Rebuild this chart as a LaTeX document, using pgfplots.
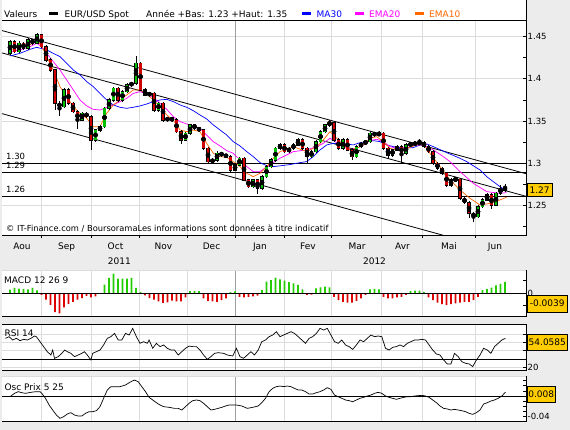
\documentclass[border=0pt]{standalone}
\usepackage{fontspec}
\setmainfont{DejaVu Sans}
\usepackage{pgfplots}
\usepackage{pgfplotstable}
\pgfplotsset{compat=1.18}
\definecolor{bg}{HTML}{ECECEC}
\definecolor{gridc}{HTML}{DCDCDC}
\definecolor{jangrid}{HTML}{A0A0A0}
\definecolor{candleup}{HTML}{00C000}
\definecolor{candledn}{HTML}{D00000}
\definecolor{macdup}{HTML}{22CC00}
\definecolor{macddn}{HTML}{DD0000}
\definecolor{ma30}{HTML}{0000FF}
\definecolor{ema20}{HTML}{FF00FF}
\definecolor{ema10}{HTML}{FF6600}
\definecolor{boxy}{HTML}{FFCC00}
\newcommand{\fs}[1]{\fontsize{#1}{#1}\selectfont}

\pgfplotstableread{
x o h l c
10 1.4300 1.4460 1.4280 1.4438
14.5 1.4438 1.4460 1.4300 1.4320
19 1.4320 1.4440 1.4305 1.4418
23.5 1.4418 1.4435 1.4340 1.4359
28 1.4359 1.4478 1.4345 1.4458
32.5 1.4458 1.4475 1.4400 1.4418
37 1.4418 1.4545 1.4405 1.4517
41.5 1.4517 1.4530 1.4360 1.4379
46 1.4379 1.4395 1.4200 1.4221
50.5 1.4221 1.4240 1.4080 1.4103
55 1.4103 1.4120 1.3630 1.3709
59.5 1.3709 1.3740 1.3560 1.3670
64 1.3670 1.3890 1.3650 1.3867
68.5 1.3867 1.3885 1.3690 1.3709
73 1.3709 1.3725 1.3590 1.3611
77.5 1.3611 1.3630 1.3400 1.3512
82 1.3512 1.3610 1.3495 1.3591
86.5 1.3591 1.3610 1.3530 1.3552
91 1.3552 1.3570 1.3158 1.3276
95.5 1.3276 1.3410 1.3255 1.3394
100 1.3394 1.3450 1.3375 1.3433
104.5 1.3433 1.3670 1.3415 1.3650
109 1.3650 1.3770 1.3630 1.3749
113.5 1.3749 1.3905 1.3730 1.3887
118 1.3887 1.3905 1.3730 1.3749
122.5 1.3749 1.3865 1.3730 1.3847
127 1.3847 1.3945 1.3830 1.3926
131.5 1.3926 1.3965 1.3905 1.3946
136 1.3946 1.4269 1.3930 1.4182
140.5 1.4182 1.4200 1.3850 1.3867
145 1.3867 1.3885 1.3790 1.3808
149.5 1.3808 1.3845 1.3790 1.3827
154 1.3827 1.3845 1.3610 1.3630
158.5 1.3630 1.3730 1.3610 1.3709
163 1.3709 1.3725 1.3490 1.3512
167.5 1.3512 1.3550 1.3495 1.3532
172 1.3532 1.3550 1.3490 1.3512
176.5 1.3512 1.3530 1.3355 1.3374
181 1.3374 1.3390 1.3229 1.3276
185.5 1.3276 1.3375 1.3260 1.3355
190 1.3355 1.3470 1.3340 1.3453
194.5 1.3453 1.3470 1.3395 1.3414
199 1.3414 1.3430 1.3375 1.3394
203.5 1.3394 1.3410 1.3160 1.3177
208 1.3177 1.3195 1.2990 1.3020
212.5 1.3020 1.3060 1.3000 1.3039
217 1.3039 1.3140 1.3020 1.3118
221.5 1.3118 1.3135 1.3080 1.3099
226 1.3099 1.3115 1.3060 1.3079
230.5 1.3079 1.3095 1.2900 1.2921
235 1.2921 1.3000 1.2905 1.2980
239.5 1.2980 1.3080 1.2965 1.3059
244 1.3059 1.3075 1.2785 1.2803
248.5 1.2803 1.2820 1.2705 1.2724
253 1.2724 1.2820 1.2710 1.2803
257.5 1.2803 1.2820 1.2637 1.2704
262 1.2704 1.2860 1.2690 1.2842
266.5 1.2842 1.2980 1.2825 1.2961
271 1.2961 1.3060 1.2945 1.3039
275.5 1.3039 1.3195 1.3020 1.3177
280 1.3177 1.3240 1.3160 1.3217
284.5 1.3217 1.3235 1.3120 1.3138
289 1.3138 1.3195 1.3120 1.3177
293.5 1.3177 1.3235 1.3160 1.3217
298 1.3217 1.3295 1.3200 1.3276
302.5 1.3276 1.3295 1.3160 1.3177
307 1.3177 1.3195 1.3000 1.3079
311.5 1.3079 1.3155 1.3060 1.3138
316 1.3138 1.3275 1.3120 1.3256
320.5 1.3256 1.3395 1.3240 1.3374
325 1.3374 1.3470 1.3355 1.3453
329.5 1.3453 1.3512 1.3435 1.3481
334 1.3481 1.3500 1.3255 1.3276
338.5 1.3276 1.3295 1.3160 1.3177
343 1.3177 1.3295 1.3160 1.3276
347.5 1.3276 1.3295 1.3140 1.3158
352 1.3158 1.3175 1.3040 1.3079
356.5 1.3079 1.3215 1.3060 1.3197
361 1.3197 1.3255 1.3180 1.3236
365.5 1.3236 1.3275 1.3220 1.3256
370 1.3256 1.3385 1.3240 1.3355
374.5 1.3355 1.3375 1.3315 1.3335
379 1.3335 1.3380 1.3320 1.3355
383.5 1.3355 1.3370 1.3160 1.3177
388 1.3177 1.3195 1.3050 1.3099
392.5 1.3099 1.3175 1.3080 1.3158
397 1.3158 1.3215 1.3140 1.3197
401.5 1.3197 1.3215 1.3000 1.3118
406 1.3118 1.3235 1.3100 1.3217
410.5 1.3217 1.3245 1.3200 1.3229
415 1.3229 1.3255 1.3210 1.3236
419.5 1.3236 1.3290 1.3220 1.3244
424 1.3244 1.3260 1.3180 1.3197
428.5 1.3197 1.3215 1.3120 1.3138
433 1.3138 1.3155 1.2980 1.3000
437.5 1.3000 1.3020 1.2920 1.2941
442 1.2941 1.2960 1.2860 1.2882
446.5 1.2882 1.2900 1.2720 1.2744
451 1.2744 1.2825 1.2725 1.2803
455.5 1.2803 1.2840 1.2790 1.2811
460 1.2811 1.2830 1.2565 1.2586
464.5 1.2586 1.2605 1.2515 1.2535
469 1.2535 1.2550 1.2350 1.2409
473.5 1.2409 1.2430 1.2310 1.2370
478 1.2370 1.2505 1.2350 1.2488
482.5 1.2488 1.2590 1.2470 1.2567
487 1.2567 1.2650 1.2550 1.2626
491.5 1.2626 1.2645 1.2460 1.2507
496 1.2507 1.2665 1.2490 1.2645
500.5 1.2645 1.2745 1.2625 1.2704
505 1.2704 1.2760 1.2660 1.2690
}\candles

\pgfplotstableread{
x y
10 1.4269
20 1.4300
30 1.4347
36.7 1.4371
46.7 1.4340
53.3 1.4300
60 1.4261
66.7 1.4182
73.3 1.4103
80 1.4044
86.7 1.3965
93.3 1.3906
100 1.3827
106.7 1.3749
113.3 1.3690
120 1.3662
126.7 1.3650
133.3 1.3662
140 1.3678
146.7 1.3701
153.3 1.3729
160 1.3749
166.7 1.3756
173.3 1.3729
180 1.3690
186.7 1.3662
193.3 1.3622
200 1.3571
206.7 1.3524
213.3 1.3453
220 1.3394
226.7 1.3335
233.3 1.3256
240 1.3205
246.7 1.3138
253.3 1.3079
260 1.3008
266.7 1.2972
273.3 1.2961
280 1.2970
290 1.2985
300 1.3008
306.7 1.3020
313.3 1.3079
320 1.3158
326.7 1.3217
333.3 1.3236
340 1.3232
346.7 1.3229
353.3 1.3217
360 1.3244
366.7 1.3256
373.3 1.3268
380 1.3256
386.7 1.3217
393.3 1.3197
400 1.3185
406.7 1.3181
413.3 1.3185
420 1.3217
426.7 1.3229
433.3 1.3197
446.7 1.3126
460 1.3059
466.7 1.3020
480 1.2921
486.7 1.2842
500 1.2724
505 1.2685
}\maA

\pgfplotstableread{
x y
10 1.4320
20 1.4340
30 1.4379
36.7 1.4418
41.7 1.4379
46.7 1.4300
53.3 1.4202
60 1.4103
66.7 1.3985
73.3 1.3867
80 1.3749
86.7 1.3678
93.3 1.3638
100 1.3630
106.7 1.3662
113.3 1.3690
120 1.3729
126.7 1.3768
133.3 1.3827
140 1.3847
146.7 1.3820
153.3 1.3780
160 1.3709
166.7 1.3638
173.3 1.3552
180 1.3493
186.7 1.3465
193.3 1.3441
200 1.3414
206.7 1.3335
213.3 1.3256
220 1.3205
226.7 1.3150
233.3 1.3118
240 1.3039
246.7 1.2961
253.3 1.2901
260 1.2901
266.7 1.2961
273.3 1.3008
280 1.3060
293.3 1.3138
306.7 1.3158
316.7 1.3197
323.3 1.3236
330 1.3296
336.7 1.3244
343.3 1.3205
350 1.3165
356.7 1.3177
363.3 1.3217
370 1.3268
376.7 1.3284
383.3 1.3256
390 1.3197
396.7 1.3177
406.7 1.3185
416.7 1.3217
423.3 1.3217
433.3 1.3158
443.3 1.3079
450 1.3020
460 1.2901
473.3 1.2764
486.7 1.2665
500 1.2645
506.7 1.2653
}\emaB

\pgfplotstableread{
x y
10 1.4340
20 1.4379
30 1.4399
36.7 1.4458
41.7 1.4387
46.7 1.4261
53.3 1.4103
60 1.3906
66.7 1.3788
73.3 1.3670
80 1.3591
86.7 1.3532
93.3 1.3433
100 1.3433
103.3 1.3512
106.7 1.3591
113.3 1.3690
120 1.3749
126.7 1.3808
133.3 1.3867
140 1.3867
146.7 1.3820
153.3 1.3749
160 1.3670
166.7 1.3571
173.3 1.3512
180 1.3394
186.7 1.3374
193.3 1.3394
200 1.3374
206.7 1.3236
213.3 1.3118
220 1.3079
226.7 1.3071
233.3 1.3020
240 1.2961
246.7 1.2882
253.3 1.2842
260 1.2882
266.7 1.2961
273.3 1.3059
280 1.3138
293.3 1.3197
306.7 1.3138
316.7 1.3197
323.3 1.3276
330 1.3374
336.7 1.3296
343.3 1.3217
350 1.3158
356.7 1.3177
363.3 1.3217
370 1.3296
376.7 1.3315
383.3 1.3256
390 1.3177
396.7 1.3158
406.7 1.3177
416.7 1.3217
423.3 1.3229
430 1.3118
440 1.2961
450 1.2803
460 1.2685
470 1.2586
480 1.2507
490 1.2527
500 1.2567
506.7 1.2600
}\emaC

\pgfplotstableread{
x v
10 0.0016
14.5 0.0023
19 0.0020
23.5 0.0019
28 0.0017
32.5 0.0023
37 0.0013
41.5 -0.0006
46 -0.0027
50.5 -0.0049
55 -0.0080
59.5 -0.0086
64 -0.0060
68.5 -0.0045
73 -0.0036
77.5 -0.0027
82 -0.0020
86.5 -0.0011
91 -0.0017
95.5 -0.0013
100 -0.0002
104.5 0.0037
109 0.0066
113.5 0.0084
118 0.0063
122.5 0.0063
127 0.0063
131.5 0.0066
136 0.0023
140.5 0.0006
145 -0.0009
149.5 -0.0020
154 -0.0027
158.5 -0.0034
163 -0.0041
167.5 -0.0039
172 -0.0031
176.5 -0.0034
181 -0.0034
185.5 -0.0017
190 0.0009
194.5 0.0011
199 0.0009
203.5 -0.0021
208 -0.0032
212.5 -0.0034
217 -0.0036
221.5 -0.0029
226 -0.0021
230.5 0.0005
235 0.0008
239.5 -0.0015
244 -0.0017
248.5 -0.0015
253 -0.0013
257.5 -0.0010
262 0.0014
266.5 0.0050
271 0.0057
275.5 0.0067
280 0.0060
284.5 0.0054
289 0.0048
293.5 0.0043
298 0.0036
302.5 0.0017
307 -0.0007
311.5 -0.0005
316 0.0021
320.5 0.0026
325 0.0029
329.5 0.0026
334 -0.0015
338.5 -0.0029
343 -0.0036
347.5 -0.0040
352 -0.0040
356.5 -0.0032
361 -0.0021
365.5 -0.0007
370 0.0017
374.5 0.0019
379 0.0017
383.5 -0.0015
388 -0.0021
392.5 -0.0021
397 -0.0017
401.5 -0.0015
406 -0.0007
410.5 0.0009
415 0.0012
419.5 0.0012
424 0.0005
428.5 -0.0017
433 -0.0029
437.5 -0.0040
442 -0.0046
446.5 -0.0050
451 -0.0046
455.5 -0.0043
460 -0.0040
464.5 -0.0037
469 -0.0036
473.5 -0.0029
478 -0.0015
482.5 0.0014
487 0.0019
491.5 0.0024
496 0.0034
500.5 0.0041
505 0.0049
}\macd

\pgfplotstableread{
x y
5.5 54.9
9.1 56.9
12.7 52.9
16.4 54.9
20 52.1
23.6 53.7
27.3 52.9
30.9 54.9
34.5 57.7
36.4 56.9
40 50.9
43.6 44.9
47.3 38.8
50.9 34.8
52.7 40.8
54.5 30.8
58.2 32.8
61.8 36.8
64.7 40.8
67.3 38.8
70.9 36.8
74.5 32.8
78.2 34.8
81.8 36.8
84.4 38.8
87.3 34.8
90.9 28.8
92.7 36.8
96.4 38.8
100 40.8
103.6 46.9
107.3 54.9
110.9 56.9
114.5 60.9
118.2 52.9
121.8 52.9
125.5 60.9
129.1 58.9
132.7 66.9
136.4 56.9
140 48.9
143.6 50.9
147.3 48.9
149.1 52.9
152.7 42.9
156.4 48.9
160 44.9
163.6 46.9
167.3 42.9
170.9 40.8
174.5 40.8
178.2 34.8
181.8 38.8
185.5 42.9
189.1 45.6
192.7 44.9
196.4 44.9
200 40.8
203.6 34.8
207.3 29.6
210.9 32.8
214.5 36.8
218.2 37.6
223.6 36.8
227.3 34.8
232.7 33.6
236.4 42.9
240 32.8
243.6 30.8
247.3 34.8
250.9 38.8
254.5 34.8
258.2 40.8
261.8 50.9
265.5 52.9
269.1 56.9
272.7 58.9
276.4 62.9
280 56.9
283.6 58.9
287.3 60.9
290.9 62.9
294.5 60.9
298.2 56.9
301.8 52.9
305.5 48.9
309.1 54.9
312.7 56.9
316.4 60.9
320 66.9
323.6 64.9
327.3 66.9
330.9 58.9
334.5 50.9
338.2 48.9
341.8 52.9
345.5 46.9
349.1 44.9
352.7 41.6
356.4 46.9
360 52.9
363.6 50.9
367.3 54.9
370.9 58.9
374.5 56.9
378.2 57.7
381.8 56.9
385.5 42.9
389.1 40.8
392.7 44.1
396.4 44.9
400 46.9
403.6 44.9
407.3 48.9
410.9 50.9
414.5 52.9
418.2 52.9
421.8 53.7
425.5 52.9
429.1 46.9
432.7 40.8
436.4 36.0
440 34.8
443.6 28.8
447.3 24.0
450.9 24.0
454.5 36.8
458.2 32.8
461.8 26.8
465.5 24.8
469.1 24.0
472.7 20.8
476.4 28.8
480 34.8
483.6 42.9
487.3 40.8
490.9 36.8
494.5 44.9
498.2 48.9
501.8 52.9
505.5 54.9
}\rsi

\pgfplotstableread{
x y
10.9 0
14.5 0.0052
18.2 0.0084
21.8 0.0064
25.5 0.0052
29.1 0.0064
32.7 0.0077
36.4 0.0084
40 0.0084
41.8 0.0052
45.5 -0.0045
49.1 -0.0174
52.7 -0.0271
56.4 -0.0368
60 -0.0432
63.6 -0.0400
67.3 -0.0348
70.9 -0.0322
74.5 -0.0368
78.2 -0.0387
81.8 -0.0387
85.5 -0.0335
89.1 -0.0303
92.7 -0.0303
96.4 -0.0284
100 -0.0206
103.6 -0.0045
107.3 0.0116
110.9 0.0181
114.5 0.0181
120 0.0181
125.5 0.0213
130.9 0.0277
134.5 0.0309
138.2 0.0277
141.8 0.0181
145.5 0.0084
149.1 -0.0026
152.7 -0.0077
156.4 -0.0129
160 -0.0174
163.6 -0.0206
169.1 -0.0219
174.5 -0.0239
178.2 -0.0239
181.8 -0.0271
185.5 -0.0206
189.1 -0.0142
192.7 -0.0090
196.4 -0.0077
200 -0.0090
203.6 -0.0142
207.3 -0.0206
210.9 -0.0271
214.5 -0.0258
218.2 -0.0239
221.8 -0.0219
225.5 -0.0193
229.1 -0.0174
236.4 -0.0174
241.8 -0.0193
247.3 -0.0239
252.7 -0.0219
258.2 -0.0193
261.8 -0.0129
265.5 -0.0045
269.1 0.0084
272.7 0.0148
276.4 0.0181
280 0.0193
283.6 0.0181
287.3 0.0193
290.9 0.0181
294.5 0.0148
298.2 0.0116
301.8 0.0116
305.5 0.0084
309.1 0.0039
312.7 0.0039
316.4 0.0064
320 0.0084
323.6 0.0116
327.3 0.0161
330.9 0.0129
334.5 0.0019
338.2 -0.0013
341.8 -0.0045
345.5 -0.0077
349.1 -0.0090
352.7 -0.0110
356.4 -0.0077
360 -0.0045
363.6 -0.0026
367.3 0
370.9 0.0019
374.5 0.0052
378.2 0.0071
381.8 0.0052
385.5 0
389.1 -0.0026
392.7 -0.0045
396.4 -0.0064
400 -0.0045
403.6 -0.0026
407.3 -0.0013
410.9 -0.0013
414.5 0
421.8 0.0013
425.5 0
429.1 -0.0026
432.7 -0.0077
436.4 -0.0129
440 -0.0193
443.6 -0.0239
447.3 -0.0251
450.9 -0.0271
454.5 -0.0258
458.2 -0.0271
461.8 -0.0284
465.5 -0.0303
469.1 -0.0335
472.7 -0.0355
476.4 -0.0322
480 -0.0271
483.6 -0.0155
487.3 -0.0129
490.9 -0.0097
494.5 -0.0077
498.2 -0.0045
501.8 0
505.5 0.0075
}\osc

\pgfplotsset{
  panel/.style={scale only axis, width=524pt, xmin=2, xmax=526,
    axis line style={draw=none},
    scaled y ticks=false, scaled x ticks=false,
    xtick={41.7,91.7,139.3,187.7,235.7,284,331.7,381.7,422.7,475.3},
    xticklabels={},
    xmajorgrids, grid style={gridc, line width=0.8pt},
    ytick pos=right, yticklabel pos=right,
    tick align=inside, major tick length=3pt, minor tick length=3pt,
    tick style={black, line width=0.6pt},
    yticklabel style={font=\fs{8.5}, inner sep=1.5pt},
  },
  jan/.style={jangrid, line width=0.8pt, forget plot},
}

\begin{document}
\begin{tikzpicture}
\fill[bg] (0pt,0pt) rectangle (570pt,-430pt);
\useasboundingbox (0pt,0pt) rectangle (570pt,-430pt);
\fill[white] (2pt,0pt) rectangle (526pt,-235pt);
\fill[white] (2pt,-270pt) rectangle (526pt,-316.7pt);
\fill[white] (2pt,-324pt) rectangle (526pt,-370pt);
\fill[white] (2pt,-376pt) rectangle (526pt,-421.7pt);

% ---------------- main panel
\begin{axis}[panel, at={(2pt,-20pt)}, anchor=north west, height=215pt,
  ymin=1.21525, ymax=1.46939,
  xtick pos=left, xtick style={draw=none},
  ytick={1.25,1.3,1.35,1.4,1.45}, yticklabels={1.25,1.3,1.35,1.4,1.45},
  minor ytick={1.225,1.275,1.325,1.375,1.425},
  ymajorgrids]
\addplot[jan] coordinates {(235.7,1.21525) (235.7,1.46939)};
% support / channel lines
\addplot[black, line width=0.8pt] coordinates {(2,1.30) (526,1.30)};
\addplot[black, line width=0.8pt] coordinates {(2,1.2894) (526,1.2894)};
\addplot[black, line width=0.8pt] coordinates {(2,1.2611) (526,1.2611)};
\addplot[black, line width=0.8pt] coordinates {(2,1.4569) (526,1.2877)};
\addplot[black, line width=0.8pt] coordinates {(2,1.4305) (526,1.2610)};
\addplot[black, line width=0.8pt] coordinates {(2,1.3587) (450,1.2127)};
% moving averages
\addplot[ma30, line width=0.7pt] table[x=x,y=y] {\maA};
\addplot[ema20, line width=0.7pt] table[x=x,y=y] {\emaB};
\addplot[ema10, line width=0.7pt] table[x=x,y=y] {\emaC};
% candles: wicks
\addplot[only marks, mark=none, error bars/.cd, y dir=both, y explicit, error mark=none,
  error bar style={black, line width=0.6pt}]
  table[x=x, y expr={(\thisrow{h}+\thisrow{l})/2}, y error expr={(\thisrow{h}-\thisrow{l})/2}] {\candles};
% bodies outline
\addplot[only marks, mark=none, error bars/.cd, y dir=both, y explicit, error mark=none,
  error bar style={black, line width=3.2pt}]
  table[x=x, y expr={(\thisrow{o}+\thisrow{c})/2}, y error expr={abs(\thisrow{c}-\thisrow{o})/2+0.0007}] {\candles};
% up bodies
\addplot[only marks, mark=none, error bars/.cd, y dir=both, y explicit, error mark=none,
  error bar style={candleup, line width=2.2pt}]
  table[x=x, y expr={(\thisrow{o}+\thisrow{c})/2}, y error expr={max(\thisrow{c}-\thisrow{o},0)/2}] {\candles};
% down bodies
\addplot[only marks, mark=none, error bars/.cd, y dir=both, y explicit, error mark=none,
  error bar style={candledn, line width=2.2pt}]
  table[x=x, y expr={(\thisrow{o}+\thisrow{c})/2}, y error expr={max(\thisrow{o}-\thisrow{c},0)/2}] {\candles};
\end{axis}
% x ticks below the main panel (outside)
\begin{axis}[scale only axis, width=524pt, height=215pt, at={(2pt,-20pt)}, anchor=north west,
  xmin=2, xmax=526, ymin=0, ymax=1, axis line style={draw=none},
  ytick=\empty, xtick={41.7,91.7,139.3,187.7,235.7,284,331.7,381.7,422.7,475.3},
  xticklabels={}, xtick pos=left, tick align=outside, major tick length=3pt,
  tick style={black, line width=0.6pt}]
\end{axis}

% ---------------- MACD
\begin{axis}[panel, at={(2pt,-270pt)}, anchor=north west, height=46.7pt,
  ymin=-0.01, ymax=0.01, xtick style={draw=none},
  ytick={-0.005,0,0.0057}, yticklabels={,0,}]
\addplot[jan] coordinates {(235.7,-0.01) (235.7,0.01)};
\addplot[ybar, bar width=1.6pt, bar shift=0pt, fill=macdup, draw=none] table[x=x, y expr={max(\thisrow{v},0)}] {\macd};
\addplot[ybar, bar width=1.6pt, bar shift=0pt, fill=macddn, draw=none] table[x=x, y expr={min(\thisrow{v},0)}] {\macd};
\addplot[black, line width=0.9pt] coordinates {(2,0) (526,0)};
\end{axis}

% ---------------- RSI
\begin{axis}[panel, at={(2pt,-324pt)}, anchor=north west, height=46pt,
  ymin=16.7, ymax=72.2, xtick style={draw=none},
  ytick={20,30,40,50,60}, yticklabels={20,,,,}, ymajorgrids]
\addplot[jan] coordinates {(235.7,16.7) (235.7,72.2)};
\addplot[black, line width=0.9pt] coordinates {(2,30) (526,30)};
\addplot[black, line width=0.7pt] table[x=x,y=y] {\rsi};
\end{axis}

% ---------------- Osc Prix
\begin{axis}[panel, at={(2pt,-376pt)}, anchor=north west, height=45.7pt,
  ymin=-0.0497, ymax=0.0387, xtick style={draw=none},
  ytick={-0.04,-0.03,-0.02,-0.01,0,0.01,0.02,0.03},
  yticklabels={-0.04,,,,,,,}]
\addplot[jan] coordinates {(235.7,-0.0497) (235.7,0.0387)};
\addplot[black, line width=0.9pt] coordinates {(2,0) (526,0)};
\addplot[black, line width=0.7pt] table[x=x,y=y] {\osc};
\end{axis}

% ---------------- frames
\draw[black, line width=0.9pt] (2pt,-20pt) -- (526pt,-20pt);
\draw[black, line width=0.9pt] (526pt,0pt) -- (526pt,-235pt) -- (2pt,-235pt);
\draw[gridc, line width=0.8pt] (2pt,-270pt) -- (526pt,-270pt);
\draw[black, line width=0.9pt] (526pt,-270pt) -- (526pt,-316.7pt) -- (2pt,-316.7pt);
\draw[black, line width=0.9pt] (2pt,-324pt) -- (526pt,-324pt) -- (526pt,-370pt) -- (2pt,-370pt);
\draw[gridc, line width=0.8pt] (2pt,-376pt) -- (526pt,-376pt);
\draw[black, line width=0.9pt] (526pt,-376pt) -- (526pt,-421.7pt) -- (2pt,-421.7pt);

% ---------------- legend
\node[anchor=base west, inner sep=0pt, font=\fs{9}] at (4pt,-17.5pt) {Valeurs};
\fill[black] (49pt,-12pt) rectangle (58pt,-15.5pt);
\node[anchor=base west, inner sep=0pt, font=\fs{9}] at (64.5pt,-17.5pt) {EUR/USD Spot};
\node[anchor=base west, inner sep=0pt, font=\fs{9}] at (146pt,-17.5pt) {Année +Bas: 1.23 +Haut: 1.35};
\fill[ma30] (302pt,-12pt) rectangle (311pt,-15.5pt);
\node[anchor=base west, inner sep=0pt, font=\fs{9}, text=ma30] at (316.5pt,-17.5pt) {MA30};
\fill[ema20] (354.5pt,-12pt) rectangle (363.5pt,-15.5pt);
\node[anchor=base west, inner sep=0pt, font=\fs{9}, text=ema20] at (369pt,-17.5pt) {EMA20};
\fill[ema10] (414.5pt,-12pt) rectangle (423.5pt,-15.5pt);
\node[anchor=base west, inner sep=0pt, font=\fs{9}, text=ema10] at (429pt,-17.5pt) {EMA10};

% ---------------- in-panel labels
\node[anchor=base west, inner sep=0pt, font=\fs{8.5}] at (6pt,-160pt) {1.30};
\node[anchor=base west, inner sep=0pt, font=\fs{8.5}] at (6pt,-168.5pt) {1.29};
\node[anchor=base west, inner sep=0pt, font=\fs{8.5}] at (6pt,-193pt) {1.26};
\node[anchor=base west, inner sep=0pt, font=\fs{8.3}] at (6pt,-232pt) {© IT-Finance.com / BoursoramaLes informations sont données à titre indicatif};
\node[anchor=base west, inner sep=0pt, font=\fs{9}] at (4pt,-283.5pt) {MACD 12 26 9};
\node[anchor=base west, inner sep=0pt, font=\fs{9}] at (4.4pt,-336.5pt) {RSI 14};
\node[anchor=base west, inner sep=0pt, font=\fs{9}] at (4.4pt,-390pt) {Osc Prix 5 25};

% ---------------- months / years
\foreach \xx/\mm in {22/Aou,66.7/Sep,115.5/Oct,163.5/Nov,211.5/Dec,260/Jan,308/Fev,357/Mar,402.5/Avr,449/Mai,495/Jun}
  \node[anchor=base, inner sep=0pt, font=\fs{9}] at (\xx pt,-250pt) {\mm};
\node[anchor=base, inner sep=0pt, font=\fs{9}] at (119.3pt,-265pt) {2011};
\node[anchor=base, inner sep=0pt, font=\fs{9}] at (374.5pt,-265pt) {2012};

% ---------------- value boxes
\node[anchor=west, fill=boxy, draw=black, line width=0.6pt, inner sep=1pt, minimum height=12.7pt, minimum width=24.7pt, font=\fs{9}] at (527pt,-189.7pt) {1.27};
\node[anchor=west, fill=boxy, draw=black, line width=0.6pt, inner sep=1pt, minimum height=17pt, minimum width=39.7pt, font=\fs{9}] at (527pt,-303.7pt) {-0.0039};
\node[anchor=west, fill=boxy, draw=black, line width=0.6pt, inner sep=1pt, minimum height=16.7pt, minimum width=40pt, font=\fs{9}] at (527pt,-342.3pt) {54.0585};
\node[anchor=west, fill=boxy, draw=black, line width=0.6pt, inner sep=1pt, minimum height=16.7pt, minimum width=27pt, font=\fs{9}] at (527pt,-394.3pt) {0.008};
\end{tikzpicture}
\end{document}
